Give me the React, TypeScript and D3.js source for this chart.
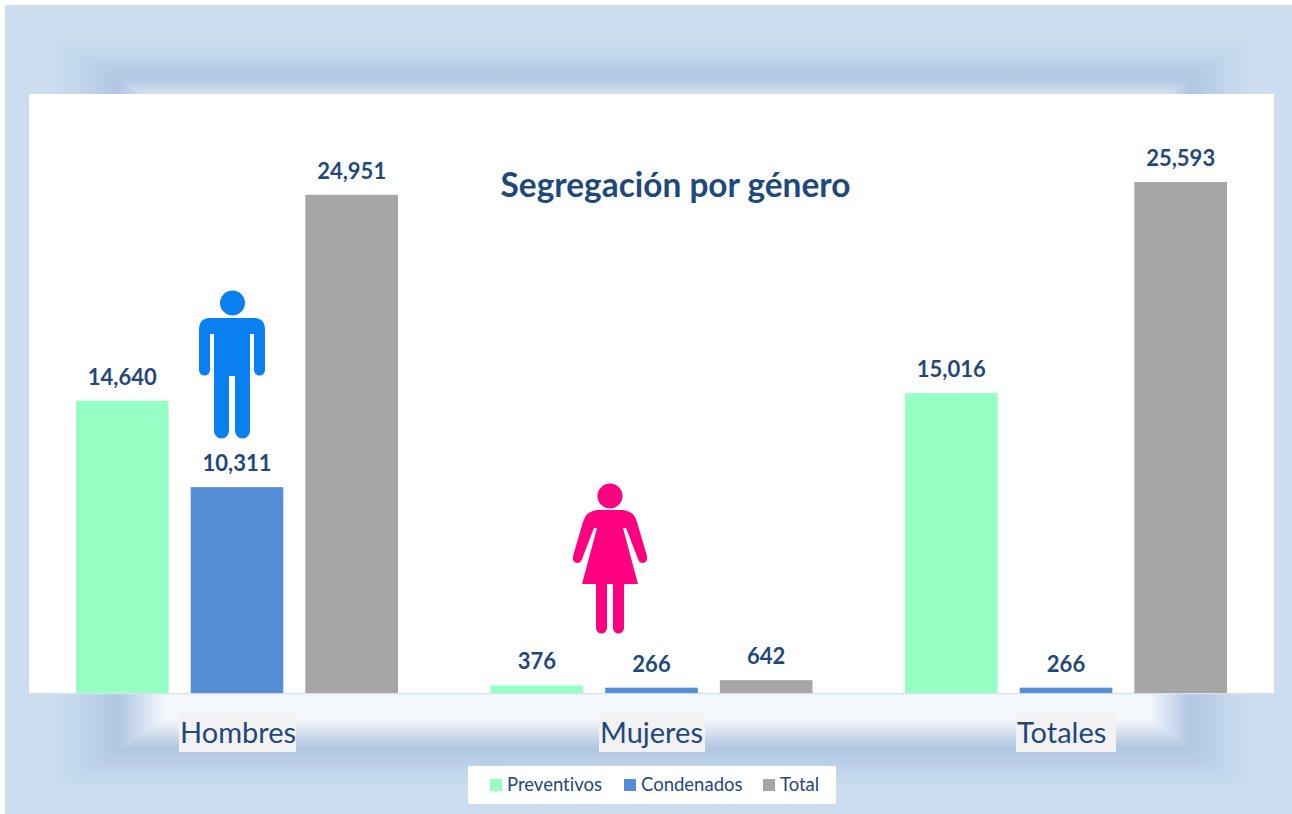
import React from 'react';
import { scaleBand, scaleLinear, format, path as d3path } from 'd3';

const categories = ['Hombres', 'Mujeres', 'Totales'];
const seriesNames = ['Preventivos', 'Condenados', 'Total'];
const preventivos = [14640, 376, 15016];
const condenados = [10311, 266, 266];
const totales = [24951, 642, 25593];
const seriesValues = [preventivos, condenados, totales];
const seriesColors = ['#96ffc4', '#558ed5', '#a6a6a6'];

const W = 1292;
const H = 814;
const INK = '#1f497d';
const FONT = 'Lato, Carlito, "Open Sans", sans-serif';

const plot = { left: 29, right: 1274, top: 94, bottom: 693 };

const x0 = scaleBand<string>().domain(categories).range([plot.left, 1272.5]);
const x1 = scaleBand<string>().domain(seriesNames).range([47, 369]).paddingInner(0.192);
// 25593 lands at y=182
const y = scaleLinear().domain([0, 25593]).range([plot.bottom, 182]);
const fmt = format(',');

// bevel rings of the picture frame
const outer = { l: 52, t: 38, r: 1250, b: 790 };
const mid = { l: 118, t: 78, r: 1190, b: 748 };
const inner = { l: 165, t: 106, r: 1150, b: 720 };

const poly = (pts: number[][]) => 'M' + pts.map(p => p.join(',')).join('L') + 'Z';

const bevel = [
  { id: 'top', x1: 0, y1: outer.t, x2: 0, y2: inner.t, a: outer.t, b: mid.t, c: inner.t,
    o: [[outer.l, outer.t], [outer.r, outer.t], [inner.r, inner.t], [inner.l, inner.t]] },
  { id: 'bottom', x1: 0, y1: outer.b, x2: 0, y2: inner.b, a: outer.b, b: mid.b, c: inner.b,
    o: [[outer.l, outer.b], [outer.r, outer.b], [inner.r, inner.b], [inner.l, inner.b]] },
  { id: 'left', x1: outer.l, y1: 0, x2: inner.l, y2: 0, a: outer.l, b: mid.l, c: inner.l,
    o: [[outer.l, outer.t], [inner.l, inner.t], [inner.l, inner.b], [outer.l, outer.b]] },
  { id: 'right', x1: outer.r, y1: 0, x2: inner.r, y2: 0, a: outer.r, b: mid.r, c: inner.r,
    o: [[outer.r, outer.t], [inner.r, inner.t], [inner.r, inner.b], [outer.r, outer.b]] },
];

const manPath = () => {
  const p = d3path();
  p.moveTo(210, 318);
  p.lineTo(254, 318);
  p.quadraticCurveTo(265, 318, 265, 330);
  p.lineTo(265, 370);
  p.arc(259.5, 370, 5.5, 0, Math.PI);
  p.lineTo(254, 334);
  p.lineTo(250, 334);
  p.lineTo(250, 431);
  p.arc(242.5, 431, 7.5, 0, Math.PI);
  p.lineTo(235, 376);
  p.lineTo(229, 376);
  p.lineTo(229, 431);
  p.arc(221.5, 431, 7.5, 0, Math.PI);
  p.lineTo(214, 334);
  p.lineTo(210, 334);
  p.lineTo(210, 370);
  p.arc(204.5, 370, 5.5, 0, Math.PI);
  p.lineTo(199, 330);
  p.quadraticCurveTo(199, 318, 210, 318);
  p.closePath();
  return p.toString();
};

const womanPath = () => {
  const p = d3path();
  p.moveTo(597, 510);
  p.lineTo(623, 510);
  p.quadraticCurveTo(634, 511, 637, 522);
  p.lineTo(647, 556);
  p.quadraticCurveTo(648, 562, 643, 563);
  p.quadraticCurveTo(639, 563, 638, 559);
  p.lineTo(626, 528);
  p.lineTo(623, 528);
  p.lineTo(638, 584);
  p.lineTo(624, 584);
  p.lineTo(624, 627);
  p.arc(618.5, 628, 5.5, 0, Math.PI);
  p.lineTo(613, 584);
  p.lineTo(607, 584);
  p.lineTo(607, 628);
  p.arc(601.5, 628, 5.5, 0, Math.PI);
  p.lineTo(596, 584);
  p.lineTo(582, 584);
  p.lineTo(597, 528);
  p.lineTo(594, 528);
  p.lineTo(582, 559);
  p.quadraticCurveTo(581, 563, 577, 563);
  p.quadraticCurveTo(572, 562, 573, 556);
  p.lineTo(583, 522);
  p.quadraticCurveTo(586, 511, 597, 510);
  p.closePath();
  return p.toString();
};

const catBoxes = [
  { x: 179, w: 117 },
  { x: 599, w: 106 },
  { x: 1016, w: 100 },
];
const legendX = [490, 624, 763];

export default function App() {
  return (
    <svg
      width={W}
      height={H}
      style={{ position: 'absolute', left: 0, top: 0, display: 'block', fontFamily: FONT, fontVariantLigatures: 'none' }}
    >
      <defs>
        {bevel.map(d => {
          const stop = (d.b - d.a) / (d.c - d.a);
          return (
            <linearGradient key={d.id} id={`g-${d.id}`} gradientUnits="userSpaceOnUse" x1={d.x1} y1={d.y1} x2={d.x2} y2={d.y2}>
              <stop offset={0} stopColor="#cbddef" />
              <stop offset={stop * 0.3} stopColor="#c5d9ee" />
              <stop offset={stop} stopColor="#b0c6e1" />
              <stop offset={1} stopColor="#f4f7fb" />
            </linearGradient>
          );
        })}
      </defs>

      <rect x={5} y={5} width={W - 5} height={H - 5} fill="#cbddef" />
      <rect x={inner.l} y={inner.t} width={inner.r - inner.l} height={inner.b - inner.t} fill="#f4f7fb" />
      {bevel.map(d => (
        <path key={d.id} d={poly(d.o)} fill={`url(#g-${d.id})`} />
      ))}

      <rect x={plot.left} y={plot.top} width={plot.right - plot.left} height={plot.bottom - plot.top} fill="#fff" />
      <line x1={plot.left} x2={plot.right} y1={plot.bottom + 0.5} y2={plot.bottom + 0.5} stroke="#d5e2f1" strokeWidth={1.5} />

      {categories.map((c, ci) =>
        seriesNames.map((s, si) => {
          const v = seriesValues[si][ci];
          const bx = (x0(c) as number) + (x1(s) as number);
          return (
            <g key={c + s}>
              <rect x={bx} y={y(v)} width={x1.bandwidth()} height={plot.bottom - y(v)} fill={seriesColors[si]} />
              <text x={bx + x1.bandwidth() / 2} y={y(v) - 16} textAnchor="middle" fontSize={22} fontWeight={700} fill={INK}>
                {fmt(v)}
              </text>
            </g>
          );
        })
      )}

      <text x={675.5} y={197} textAnchor="middle" fontSize={33.4} fontWeight={700} fill={INK}>
        Segregación por género
      </text>

      <circle cx={232.5} cy={303} r={12.5} fill="#0a80f0" />
      <path d={manPath()} fill="#0a80f0" />
      <circle cx={610} cy={496} r={12.5} fill="#ff0080" />
      <path d={womanPath()} fill="#ff0080" />

      {categories.map((c, i) => (
        <g key={c}>
          <rect x={catBoxes[i].x} y={713} width={catBoxes[i].w} height={39} fill="#f2f2f2" />
          <text x={catBoxes[i].x + 1} y={743} fontSize={29} fill={INK}>
            {c}
          </text>
        </g>
      ))}

      <rect x={468} y={766} width={368} height={38} fill="#fff" />
      {seriesNames.map((s, i) => (
        <g key={s}>
          <rect x={legendX[i]} y={779} width={12} height={12} fill={seriesColors[i]} />
          <text x={legendX[i] + 17} y={791} fontSize={18.5} fill={INK}>
            {s}
          </text>
        </g>
      ))}
    </svg>
  );
}
